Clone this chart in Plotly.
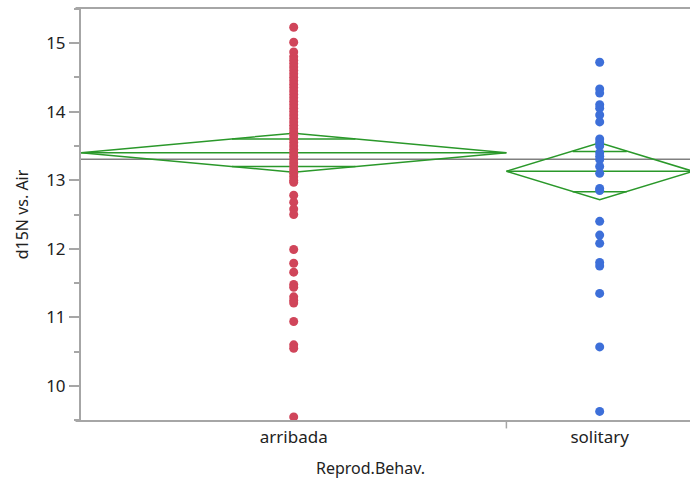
import plotly.graph_objects as go

# ---- data ----
groups = ["arribada", "solitary"]
arribada_d15n = [15.23, 15.01, 14.87, 14.80, 14.75, 14.70, 14.65, 14.60, 14.55, 14.50,
                 14.45, 14.40, 14.35, 14.30, 14.25, 14.20, 14.15, 14.10, 14.05, 14.00,
                 13.95, 13.90, 13.85, 13.80, 13.75, 13.70, 13.65, 13.60, 13.55, 13.50,
                 13.45, 13.40, 13.35, 13.30, 13.25, 13.20, 13.15, 13.10, 13.05, 13.00,
                 12.97, 12.78, 12.68, 12.58, 12.50, 11.99, 11.79, 11.66, 11.48, 11.44,
                 11.30, 11.25, 11.21, 10.94, 10.60, 10.55, 9.55]
solitary_d15n = [14.72, 14.33, 14.27, 14.10, 14.05, 13.95, 13.85, 13.60, 13.55, 13.50,
                 13.40, 13.35, 13.30, 13.20, 13.10, 12.88, 12.85, 12.40, 12.20, 12.08,
                 11.80, 11.75, 11.35, 10.57, 9.63]
group_means = [13.40, 13.13]
ci_upper = [13.685, 13.545]
ci_lower = [13.117, 12.715]
overlap_upper = [13.60, 13.42]
overlap_lower = [13.20, 12.83]
grand_mean = 13.305
y_ticks = [10, 11, 12, 13, 14, 15]

values = [arribada_d15n, solitary_d15n]
colors = ["#D0455A", "#3D6FD9"]
green = "#2A982A"
axis_gray = "#A6A6A6"

counts = [len(v) for v in values]
lefts, centers, rights = [], [], []
acc = 0
for n in counts:
    lefts.append(acc)
    centers.append(acc + n / 2)
    rights.append(acc + n)
    acc += n
total = acc

fig = go.Figure()

# grand mean line
fig.add_shape(type="line", xref="paper", yref="y", x0=0, x1=1,
              y0=grand_mean, y1=grand_mean, line=dict(color="#808080", width=1.5), layer="below")

for i, g in enumerate(groups):
    L, C, R = lefts[i], centers[i], rights[i]
    half = (R - L) / 2
    # means diamond
    fig.add_trace(go.Scatter(
        x=[L, C, R, C, L], y=[group_means[i], ci_upper[i], group_means[i], ci_lower[i], group_means[i]],
        mode="lines", line=dict(color=green, width=1.5), hoverinfo="skip", showlegend=False))
    # mean line
    fig.add_trace(go.Scatter(
        x=[L, R], y=[group_means[i], group_means[i]], mode="lines",
        line=dict(color=green, width=1.5), hoverinfo="skip", showlegend=False))
    # overlap marks
    f = 0.29
    for yv in (overlap_upper[i], overlap_lower[i]):
        fig.add_trace(go.Scatter(
            x=[C - f * half, C + f * half], y=[yv, yv], mode="lines",
            line=dict(color=green, width=1.5), hoverinfo="skip", showlegend=False))

for i, g in enumerate(groups):
    fig.add_trace(go.Scatter(
        x=[centers[i]] * counts[i], y=values[i], mode="markers", name=g,
        marker=dict(color=colors[i], size=9, line=dict(width=0)), showlegend=False))

# boundary tick between groups
for b in rights[:-1]:
    fig.add_shape(type="line", xref="x", yref="paper", x0=b, x1=b, y0=0, y1=-0.018,
                  line=dict(color=axis_gray, width=1.5))

# frame lines top & bottom (extend slightly left)
for yy in (0, 1):
    fig.add_shape(type="line", xref="paper", yref="paper", x0=-0.009, x1=1, y0=yy, y1=yy,
                  line=dict(color=axis_gray, width=2))

font_family = "Noto Sans, Open Sans, sans-serif"
fig.update_layout(
    width=690, height=485,
    margin=dict(l=81, r=0, t=8, b=64),
    paper_bgcolor="white", plot_bgcolor="white",
    font=dict(family=font_family, color="#333333", size=16),
    xaxis=dict(range=[0, total - 0.4], tickvals=centers, ticktext=groups, ticks="",
               showgrid=False, zeroline=False, showline=False, ticklabelstandoff=4,
               tickfont=dict(size=17, color="#222222")),
    yaxis=dict(range=[9.49, 15.51], tickvals=y_ticks, ticks="outside", ticklen=10,
               tickcolor=axis_gray, tickwidth=1.5,
               minor=dict(dtick=0.5, tick0=0, ticks="outside", ticklen=5, tickcolor=axis_gray, tickwidth=1.5),
               showgrid=False, zeroline=False, showline=True, linecolor=axis_gray, linewidth=2,
               tickfont=dict(size=17, color="#222222"),
               title=dict(text="d15N vs. Air", font=dict(size=16, color="#222222"), standoff=14)),
    annotations=[dict(text="Reprod.Behav.", xref="paper", yref="paper", x=0.476, y=0,
                      yshift=-47, showarrow=False, yanchor="middle",
                      font=dict(size=16, color="#222222"))],
)

fig.write_html(
    "out.html",
    config={"displayModeBar": False},
    post_script=("document.documentElement.style.margin='0';document.body.style.margin='0';"
                 "document.documentElement.style.overflow='hidden';document.body.style.overflow='hidden';"),
)
